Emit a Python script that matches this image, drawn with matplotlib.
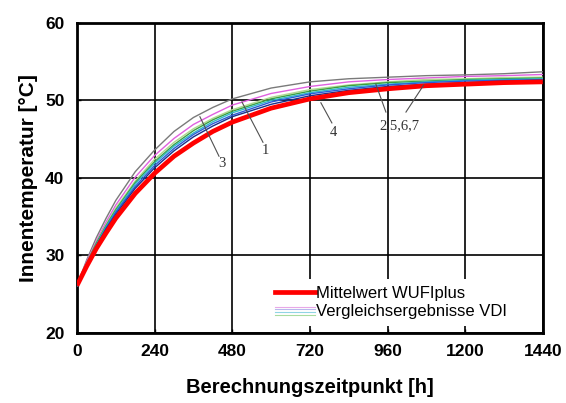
import numpy as np
import matplotlib.pyplot as plt
from matplotlib.legend_handler import HandlerBase
from matplotlib.lines import Line2D

# Zeitpunkte [h]
t = [0, 30, 60, 90, 120, 180, 240, 300, 360, 420, 480, 600, 720, 840, 960, 1080, 1200, 1320, 1440]

# Mittelwert WUFIplus
wufi = [26.1, 28.6, 30.9, 32.9, 34.8, 38.0, 40.6, 42.8, 44.5, 46.0, 47.2, 49.0, 50.2, 51.0, 51.5, 51.9, 52.1, 52.3, 52.4]

# Vergleichsergebnisse VDI (Kurven 1-7)
vdi_3 = [26.1, 29.4, 32.3, 34.8, 37.1, 40.8, 43.6, 46.0, 47.8, 49.1, 50.2, 51.6, 52.4, 52.8, 53.0, 53.2, 53.3, 53.45, 53.7]
vdi_1 = [26.1, 29.2, 31.9, 34.3, 36.5, 40.1, 42.9, 45.1, 46.9, 48.2, 49.4, 50.9, 51.8, 52.4, 52.7, 52.9, 53.1, 53.2, 53.35]
vdi_2 = [26.1, 29.0, 31.7, 34.0, 36.1, 39.6, 42.4, 44.6, 46.35, 47.7, 48.8, 50.4, 51.4, 52.0, 52.4, 52.7, 52.8, 52.95, 53.0]
vdi_5 = [26.1, 29.0, 31.6, 33.85, 35.9, 39.4, 42.1, 44.3, 46.1, 47.5, 48.6, 50.2, 51.2, 51.9, 52.3, 52.5, 52.7, 52.8, 52.9]
vdi_6 = [26.1, 28.9, 31.4, 33.7, 35.7, 39.2, 41.9, 44.1, 45.8, 47.25, 48.4, 50.0, 51.0, 51.7, 52.1, 52.4, 52.6, 52.7, 52.8]
vdi_7 = [26.1, 28.85, 31.3, 33.55, 35.55, 38.9, 41.6, 43.8, 45.6, 47.0, 48.1, 49.8, 50.85, 51.5, 52.0, 52.3, 52.5, 52.6, 52.7]
vdi_4 = [26.1, 28.8, 31.2, 33.4, 35.3, 38.65, 41.3, 43.5, 45.3, 46.7, 47.9, 49.5, 50.6, 51.3, 51.8, 52.1, 52.3, 52.5, 52.6]

vdi_series = [vdi_3, vdi_1, vdi_2, vdi_5, vdi_6, vdi_7, vdi_4]
vdi_colors = ["#7a7a7a", "#e060e0", "#b0d890", "#3aa040", "#30b8c8", "#2a5ad8", "#18308a"]
legend_vdi_colors = ["#e8a8e8", "#b8b8ec", "#90d4e4", "#a8dca0"]

xticks = [0, 240, 480, 720, 960, 1200, 1440]
yticks = [20, 30, 40, 50, 60]

# Kurvenbeschriftungen: Text, Textposition, Linienenden
labels = [
    ("3", (448, 41.9), [((380, 47.9), (439, 42.8))]),
    ("1", (584, 43.5), [((510, 49.8), (575, 44.6))]),
    ("4", (794, 45.8), [((754, 49.7), (788, 47.1))]),
    ("2,5,6,7", (998, 46.7), [((924, 52.1), (955, 48.5)), ((1072, 52.0), (1017, 48.5))]),
]


class StackedLines(HandlerBase):
    def __init__(self, colors):
        super().__init__()
        self.colors = colors

    def create_artists(self, legend, orig_handle, xdescent, ydescent,
                       width, height, fontsize, trans):
        arts = []
        n = len(self.colors)
        for i, c in enumerate(self.colors):
            y = height * (0.85 - 0.7 * i / (n - 1)) - ydescent
            ln = Line2D([-xdescent, width - xdescent], [y, y], color=c, lw=0.8)
            ln.set_transform(trans)
            arts.append(ln)
        return arts


plt.rcParams['font.family'] = ['Liberation Sans', 'DejaVu Sans']

fig = plt.figure(figsize=(5.66, 4.03), dpi=100)
ax = fig.add_axes([0.136, 0.174, 0.823, 0.769])

for vals, c in zip(vdi_series, vdi_colors):
    ax.plot(t, vals, color=c, lw=1.0, zorder=3)
ax.plot(t, wufi, color="#ff0000", lw=3.4, zorder=4, solid_capstyle="butt")

for txt, pos, segs in labels:
    for (a, b) in segs:
        ax.plot([a[0], b[0]], [a[1], b[1]], color="#505050", lw=0.8, zorder=5)
    ax.text(pos[0], pos[1], txt, family="Liberation Serif", fontsize=10.5,
            ha="center", va="center", color="#333333", zorder=5)

ax.set_xlim(0, 1440)
ax.set_ylim(20, 60)
ax.set_xticks(xticks)
ax.set_yticks(yticks)
ax.grid(True, color="black", lw=1.2)
ax.set_axisbelow(True)
ax.tick_params(direction="in", length=3, width=1, labelsize=12.5)
ax.tick_params(axis="x", pad=8)
ax.tick_params(axis="y", pad=9)
for lab in ax.get_xticklabels() + ax.get_yticklabels():
    lab.set_fontweight("bold")
for s in ax.spines.values():
    s.set_linewidth(2)

ax.set_xlabel("Berechnungszeitpunkt [h]", fontsize=14.5, fontweight="bold", labelpad=14)
ax.set_ylabel("Innentemperatur [°C]", fontsize=15, fontweight="bold", labelpad=5)

h_red = Line2D([], [], color="#ff0000", lw=3.4)
h_vdi = object()
leg = ax.legend([h_red, h_vdi], ["Mittelwert WUFIplus", "Vergleichsergebnisse VDI"],
                handler_map={h_vdi: StackedLines(legend_vdi_colors)},
                loc="center left", bbox_to_anchor=(0.41, 0.097), fontsize=12,
                frameon=True, framealpha=1, edgecolor="none", fancybox=False,
                handlelength=2.45, handletextpad=0.05, borderpad=0.4,
                labelspacing=0.2, borderaxespad=0)
leg.set_zorder(6)

fig.savefig("out.png", dpi=100)
